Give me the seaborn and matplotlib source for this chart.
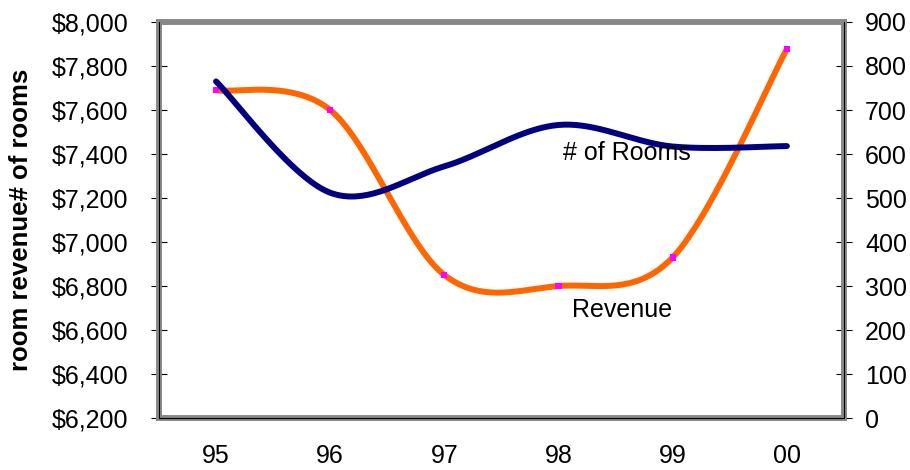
import numpy as np
import pandas as pd
import seaborn as sns
import matplotlib.pyplot as plt

# values
years = ["95", "96", "97", "98", "99", "00"]
revenue = [7690, 7600, 6850, 6800, 6930, 7877]
rooms = [765, 512, 572, 666, 617, 618]


def smooth(vals, steps=40):
    # Excel-style smoothed line: cubic Bezier through each pair of points
    p = np.column_stack([np.arange(len(vals)), vals]).astype(float)
    pad = np.vstack([p[0], p, p[-1]])
    t = np.linspace(0, 1, steps)[:, None]
    parts = []
    for i in range(len(p) - 1):
        p0, p1 = pad[i + 1], pad[i + 2]
        c1 = p0 + (pad[i + 2] - pad[i]) / 6
        c2 = p1 - (pad[i + 3] - pad[i + 1]) / 6
        seg = (1 - t) ** 3 * p0 + 3 * (1 - t) ** 2 * t * c1 + 3 * (1 - t) * t ** 2 * c2 + t ** 3 * p1
        parts.append(seg if i == 0 else seg[1:])
    out = np.vstack(parts)
    return pd.DataFrame({"x": out[:, 0], "y": out[:, 1]})


sns.set_style("white")
plt.rcParams["font.family"] = ["Liberation Sans", "DejaVu Sans"]
plt.rcParams["text.color"] = "black"
plt.rcParams["axes.labelcolor"] = "black"
plt.rcParams["xtick.color"] = "black"
plt.rcParams["ytick.color"] = "black"

fig = plt.figure(figsize=(9.1, 4.7), dpi=100)
ax = fig.add_axes([0.1747, 0.1106, 0.7527, 0.8426])
ax2 = ax.twinx()

# revenue (left axis)
sns.lineplot(data=smooth(revenue), x="x", y="y", ax=ax, color="#FF6600",
             lw=4.3, sort=False, estimator=None, solid_capstyle="butt")
sns.scatterplot(x=np.arange(len(years)), y=revenue, ax=ax, marker="s",
                color="#FF00FF", s=20, edgecolor="none", zorder=5)

# rooms (right axis)
sns.lineplot(data=smooth(rooms), x="x", y="y", ax=ax2, color="#000080",
             lw=4.3, sort=False, estimator=None, solid_capstyle="round")

ax.set_xlim(-0.5, 5.5)
ax.set_ylim(6200, 8000)
ax2.set_ylim(0, 900)

ax.set_yticks(np.arange(6200, 8001, 200))
ax.set_yticklabels([f"${v:,}" for v in range(6200, 8001, 200)])
ax2.set_yticks(np.arange(0, 901, 100))

ax.set_xticks(np.arange(-0.5, 6, 1))
ax.set_xticklabels([])
ax.set_xticks(np.arange(len(years)), minor=True)
ax.set_xticklabels(years, minor=True)

ax.tick_params(axis="x", which="major", direction="inout", length=11.5, width=0.8, color="black")
ax.tick_params(axis="x", which="minor", length=0, pad=19, labelsize=18, labelcolor="black")
ax.tick_params(axis="y", direction="inout", length=11.5, width=0.8, color="black",
               pad=16.5, labelsize=18, left=True, labelcolor="black")
ax2.tick_params(axis="y", direction="inout", length=11.5, width=0.8, color="black",
                pad=9.4, labelsize=18, right=True, labelcolor="black")

ax.set_xlabel("")
ax.set_ylabel("room revenue# of rooms", fontsize=18.5, fontweight="bold", color="black")
ax.yaxis.set_label_coords(-0.184, 0.5)
ax2.set_ylabel("")

for a in (ax, ax2):
    for s in a.spines.values():
        s.set_color("#888888")
        s.set_linewidth(4)

# thin black axis lines over the grey frame
for xs, ys in (([0, 0], [0, 1]), ([0, 1], [0, 0]), ([1, 1], [0, 1])):
    ax2.plot(xs, ys, transform=ax2.transAxes, color="black", lw=0.8,
             clip_on=False, zorder=10)

ax2.text(3.6, 602, "# of Rooms", ha="center", va="center", fontsize=18, color="black")
ax.text(3.56, 6691, "Revenue", ha="center", va="center", fontsize=18, color="black")

fig.savefig("out.png", dpi=100)
